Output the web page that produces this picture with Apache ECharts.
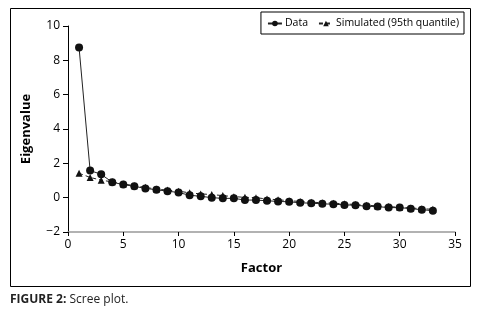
<!DOCTYPE html>
<html>
<head>
<meta charset="utf-8">
<script src="https://cdn.jsdelivr.net/npm/echarts@6/dist/echarts.min.js"></script>
<style>
  html, body { margin: 0; padding: 0; background: #fff; }
  #chart { width: 479px; height: 323px; }
</style>
</head>
<body>
<div id="chart"></div>
<script>
// factor numbers 1..33
var factors = [1, 2, 3, 4, 5, 6, 7, 8, 9, 10, 11, 12, 13, 14, 15, 16, 17,
  18, 19, 20, 21, 22, 23, 24, 25, 26, 27, 28, 29, 30, 31, 32, 33]
// observed eigenvalues
var dataValues = [8.75, 1.58, 1.36, 0.9, 0.76, 0.66, 0.54, 0.46, 0.38, 0.3, 0.14,
  0.08, 0.0, -0.04, -0.04, -0.14, -0.14, -0.18, -0.22, -0.24, -0.3, -0.32,
  -0.36, -0.38, -0.42, -0.44, -0.5, -0.52, -0.58, -0.58, -0.64, -0.7, -0.76]
// simulated eigenvalues (95th quantile)
var simValues = [1.42, 1.18, 1.02, 0.92, 0.8, 0.7, 0.6, 0.5, 0.44, 0.38, 0.28,
  0.22, 0.18, 0.12, 0.06, 0.02, 0.0, -0.08, -0.12, -0.18, -0.22, -0.26,
  -0.3, -0.32, -0.36, -0.4, -0.44, -0.48, -0.52, -0.56, -0.6, -0.64, -0.68]

var font = '"Open Sans", "Noto Sans", sans-serif'

function pairs (xs, ys) {
  return xs.map(function (x, i) { return [x, ys[i]] })
}

var myChart = echarts.init(document.getElementById('chart'))
var option = {
  animation: false,
  textStyle: { fontFamily: font },
  grid: { left: 68, right: 24, top: 26, bottom: 91 },
  graphic: [
    // outer frame
    {
      type: 'rect',
      shape: { x: 10.5, y: 8.5, width: 460, height: 278 },
      style: { fill: 'none', stroke: '#000', lineWidth: 1 },
      silent: true
    },
    // caption
    {
      type: 'text',
      left: 10,
      top: 294,
      style: {
        text: '{b|FIGURE 2:} Scree plot.',
        font: '12px ' + font,
        fill: '#222',
        rich: {
          b: { fontWeight: 'bold', fontSize: 12, fontFamily: font, fill: '#222' }
        }
      }
    }
  ],
  legend: {
    right: 15,
    top: 12,
    orient: 'horizontal',
    borderColor: '#000',
    borderWidth: 1,
    borderRadius: 0,
    padding: [6, 5, 5, 6],
    itemGap: 10,
    itemWidth: 14,
    itemHeight: 7,
    textStyle: { fontSize: 10.5, color: '#000', fontFamily: font, padding: [0, 0, 0, -2] },
    data: ['Data', 'Simulated (95th quantile)']
  },
  xAxis: {
    type: 'value',
    min: 0,
    max: 35,
    interval: 5,
    name: 'Factor',
    nameLocation: 'middle',
    nameGap: 30,
    nameTextStyle: { fontSize: 13, fontWeight: 'bold', color: '#000' },
    axisLine: { onZero: false, lineStyle: { color: '#999', width: 1.5 } },
    axisTick: { show: true, length: 4, lineStyle: { color: '#000' } },
    axisLabel: { fontSize: 12, color: '#000', margin: 7 },
    splitLine: { show: false }
  },
  yAxis: {
    type: 'value',
    min: -2,
    max: 10,
    interval: 2,
    name: 'Eigenvalue',
    nameLocation: 'middle',
    nameGap: 35,
    nameRotate: 90,
    nameTextStyle: { fontSize: 13, fontWeight: 'bold', color: '#000' },
    axisLine: { show: true, lineStyle: { color: '#000', width: 1 } },
    axisTick: { show: true, length: 5, lineStyle: { color: '#000' } },
    axisLabel: {
      fontSize: 12,
      color: '#000',
      margin: 8,
      formatter: function (v) { return String(v).replace('-', '\u2212') }
    },
    splitLine: { show: false }
  },
  series: [
    {
      name: 'Data',
      type: 'line',
      symbol: 'circle',
      symbolSize: 8,
      lineStyle: { color: '#222', width: 1 },
      itemStyle: { color: '#111' },
      z: 3,
      data: pairs(factors, dataValues)
    },
    {
      name: 'Simulated (95th quantile)',
      type: 'line',
      symbol: 'triangle',
      symbolSize: 7,
      lineStyle: { color: '#222', width: 1, type: [4, 3] },
      itemStyle: { color: '#111' },
      z: 2,
      data: pairs(factors, simValues)
    }
  ]
}
myChart.setOption(option)
window.onresize = myChart.resize
</script>
</body>
</html>
